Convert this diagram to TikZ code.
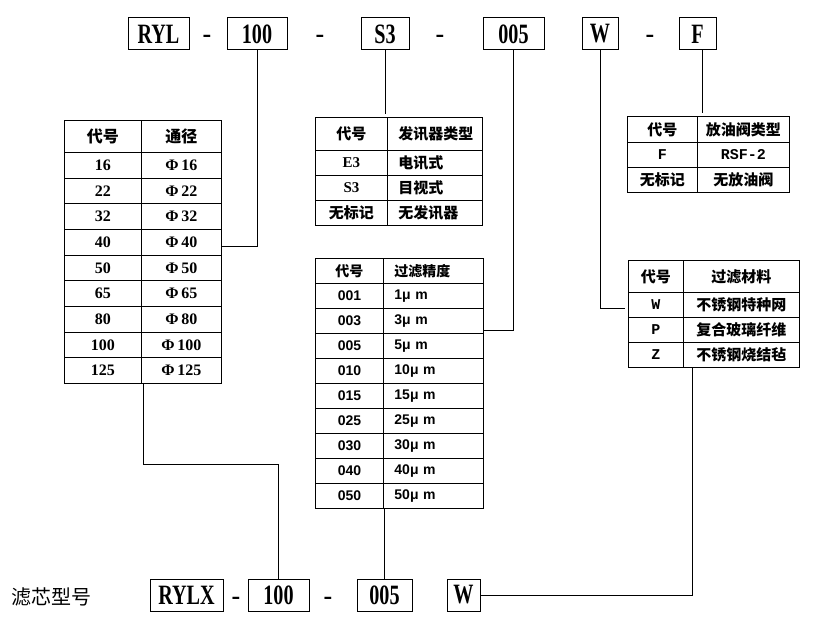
\documentclass[tikz,border=0pt]{standalone}
\usepackage{fontspec}
\setmainfont{Liberation Serif}
\newfontfamily\cjk{Noto Sans CJK SC}
\newfontfamily\narrow{Liberation Serif}[FakeStretch=0.72]
\newfontfamily\hei{Liberation Sans}
\newfontfamily\cour{Liberation Mono}
\usetikzlibrary{matrix,positioning,calc}

\newcommand\zh[1]{{\cjk #1}}

\tikzset{
  codebox/.style={draw, line width=1pt, minimum height=32pt, inner sep=0pt,
    font=\narrow\bfseries\fontsize{28}{28}\selectfont},
  minus/.style={inner sep=0pt, anchor=base, font=\bfseries\fontsize{26}{26}\selectfont},
  tbl/.style={matrix of nodes, anchor=north west, inner sep=0pt, outer sep=0pt,
    column sep=-0.9pt, row sep=-0.9pt,
    nodes={draw, line width=0.9pt, inner sep=0pt, outer sep=0pt, anchor=center,
      minimum height=25pt, font=\bfseries\fontsize{15}{15}\selectfont}},
  link/.style={line width=0.9pt},
}

\begin{document}
\begin{tikzpicture}[x=1pt,y=-1pt]
  \useasboundingbox (0,0) rectangle (825,623);

  % model code, top row
  \node[codebox, minimum width=61pt] (nRYL) at (158.5,34) {RYL};
  \node[minus] (m1) at (207,43) {-};
  \node[codebox, minimum width=60pt] (n100) at (257,34) {100};
  \node[minus] (m2) at (320,43) {-};
  \node[codebox, minimum width=48pt] (nS3) at (385,34) {S3};
  \node[minus] (m3) at (440,43) {-};
  \node[codebox, minimum width=61pt] (n005) at (513.5,34) {005};
  \node[codebox, minimum width=36pt] (nW) at (600,34) {W};
  \node[minus] (m4) at (650,43) {-};
  \node[codebox, minimum width=37pt] (nF) at (697.5,34) {F};

  % element code, bottom row
  \node[font=\cjk\fontsize{20}{20}\selectfont] (lbl) at (52,597) {滤芯型号};
  \node[codebox, minimum width=73pt] (bRYLX) at (186.5,595) {RYLX};
  \node[minus] (m5) at (236,604) {-};
  \node[codebox, minimum width=61pt] (b100) at (278.5,595) {100};
  \node[minus] (m6) at (328,604) {-};
  \node[codebox, minimum width=55pt] (b005) at (384.5,595) {005};
  \node[codebox, minimum width=33pt] (bW) at (463.5,595) {W};

  % tables
  \matrix (bore) [tbl, row 1/.style={nodes={minimum height=32pt}},
    nodes={minimum height=25.67pt, font=\bfseries\fontsize{16}{16}\selectfont},
    column 1/.style={nodes={minimum width=77pt}},
    column 2/.style={nodes={minimum width=80pt}}] at (64,120) {
    \zh{代号} & \zh{通径} \\
    16 & Φ\,16 \\
    22 & Φ\,22 \\
    32 & Φ\,32 \\
    40 & Φ\,40 \\
    50 & Φ\,50 \\
    65 & Φ\,65 \\
    80 & Φ\,80 \\
    100 & Φ\,100 \\
    125 & Φ\,125 \\
  };

  \matrix (sensor) [tbl, row 1/.style={nodes={minimum height=33pt}},
    column 1/.style={nodes={minimum width=72pt}},
    column 2/.style={nodes={minimum width=95pt, text width=73pt, inner xsep=11pt, align=left}}] at (315,117) {
    \zh{代号} & \zh{发讯器类型} \\
    E3 & \zh{电讯式} \\
    S3 & \zh{目视式} \\
    \zh{无标记} & \zh{无发讯器} \\
  };

  \matrix (prec) [tbl,
    column 1/.style={nodes={minimum width=68pt, font=\hei\bfseries\fontsize{14}{14}\selectfont}},
    column 2/.style={nodes={minimum width=100pt, text width=78pt, inner xsep=11pt, align=left,
      font=\hei\bfseries\fontsize{14}{14}\selectfont}}] at (315,258) {
    \zh{代号} & \zh{过滤精度} \\
    001 & 1μ m \\
    003 & 3μ m \\
    005 & 5μ m \\
    010 & 10μ m \\
    015 & 15μ m \\
    025 & 25μ m \\
    030 & 30μ m \\
    040 & 40μ m \\
    050 & 50μ m \\
  };

  \matrix (valve) [tbl, row 1/.style={nodes={minimum height=26pt}},
    column 1/.style={nodes={minimum width=70pt}},
    column 2/.style={nodes={minimum width=92pt}},
    nodes={font=\cour\bfseries\fontsize{15}{15}\selectfont}] at (627,116) {
    \zh{代号} & \zh{放油阀类型} \\
    F & RSF-2 \\
    \zh{无标记} & \zh{无放油阀} \\
  };

  \matrix (mat) [tbl, row 1/.style={nodes={minimum height=32pt}},
    column 1/.style={nodes={minimum width=55pt}},
    column 2/.style={nodes={minimum width=116pt}},
    nodes={font=\cour\bfseries\fontsize{15}{15}\selectfont}] at (628,260) {
    \zh{代号} & \zh{过滤材料} \\
    W & \zh{不锈钢特种网} \\
    P & \zh{复合玻璃纤维} \\
    Z & \zh{不锈钢烧结毡} \\
  };

  % connectors
  \draw[link] ([yshift=-4pt]bore-5-2.east) -| (n100.south);
  \draw[link, shorten >=3pt] (nS3.south) -- (nS3.south |- sensor.north);
  \draw[link] ([yshift=-9.5pt]prec-3-2.east) -| (n005.south);
  \draw[link, shorten >=3pt] (nW.south) |- ([yshift=-3.5pt]mat-2-1.west);
  \draw[link, shorten >=3pt] ([xshift=5pt]nF.south) -- ([xshift=5pt]nF.south |- valve.north);
  \draw[link] (bore.south) -- ++(0,81) -| (b100.north);
  \draw[link] (b005.north) -- (b005.north |- prec.south);
  \draw[link] (bW.east) -| ([xshift=9pt]mat-4-2.south west);
\end{tikzpicture}
\end{document}
